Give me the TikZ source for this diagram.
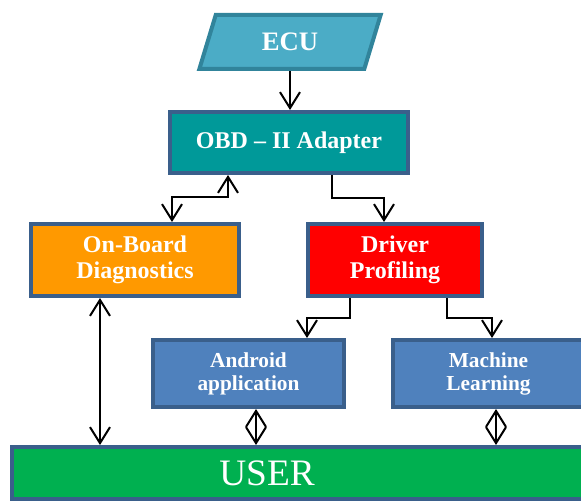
\documentclass[tikz,border=0pt]{standalone}
\usepackage{fontspec}
\setmainfont{Liberation Serif}
\usetikzlibrary{positioning,shapes.geometric,arrows.meta}
\definecolor{ecublue}{HTML}{4BACC6}
\definecolor{ecuedge}{HTML}{31849B}
\definecolor{edgeblue}{HTML}{3A5F8B}
\definecolor{obdteal}{HTML}{009999}
\definecolor{diagorange}{HTML}{FF9900}
\definecolor{profred}{HTML}{FF0000}
\definecolor{appblue}{HTML}{4F81BD}
\definecolor{usergreen}{HTML}{00B050}

\begin{document}
\begin{tikzpicture}[x=0.75pt,y=-0.75pt,
    every node/.style={
    draw=edgeblue, line width=3pt, text=white, align=center},
    bigbox/.style={font=\fontsize{18}{19.5}\selectfont\bfseries},
    smallbox/.style={fill=appblue, minimum width=143.25pt, minimum height=50.25pt,
    font=\fontsize{16}{17.25}\selectfont\bfseries},
    link/.style={draw=black, line width=1.5pt,
    -{Straight Barb[length=12pt,width=15pt]}},
    dual/.style={link,
    {Straight Barb[length=12pt,width=15pt]}-{Straight Barb[length=12pt,width=15pt]}}
    ]
    \useasboundingbox (0,0) rectangle (581,503);

    \node[trapezium, trapezium left angle=75, trapezium right angle=105,
    trapezium stretches=true, minimum width=136.5pt, minimum height=40.5pt,
    fill=ecublue, draw=ecuedge, font=\fontsize{20}{22}\selectfont\bfseries
    ](ecu) at (290,42) {ECU};
    \node[bigbox, fill=obdteal, minimum width=178.5pt, minimum height=45.75pt
    ](obd) at (289,142.5) {OBD -- II Adapter};
    \node[bigbox, fill=diagorange, minimum width=156pt, minimum height=54pt
    ](obdiag) at (135,260) {On-Board\\Diagnostics};
    \node[bigbox, fill=profred, minimum width=130.5pt, minimum height=54pt
    ](prof) at (395,260) {Driver\\Profiling};
    \node[smallbox](app) at (248.5,373.5) {Android\\application};
    \node[smallbox](ml) at (488.5,373.5) {Machine\\Learning};
    \node[fill=usergreen, minimum width=432pt, minimum height=39pt
    ](user) at (300,473) {};
    \node[draw=none, font=\fontsize{28}{30}\selectfont](usertxt) at (267,473) {USER};

    \coordinate (a1) at (228,197);
    \coordinate (a2) at (172,197);
    \coordinate (b1) at (332,198);
    \coordinate (b2) at (384,198);
    \coordinate (c1) at (350,318);
    \coordinate (c2) at (307,318);
    \coordinate (d1) at (447,318);
    \coordinate (d2) at (492,318);
    \coordinate (e1) at (100,400);
    \coordinate (e2) at (256,400);
    \coordinate (e3) at (496,400);

    \draw[link] (ecu.south) -- (ecu.south |- obd.north);
    \draw[dual] (a1 |- obd.south) -- (a1) -- (a2) -- (a2 |- obdiag.north);
    \draw[link] (b1 |- obd.south) -- (b1) -- (b2) -- (b2 |- prof.north);
    \draw[link] (c1 |- prof.south) -- (c1) -- (c2) -- (c2 |- app.north);
    \draw[link] (d1 |- prof.south) -- (d1) -- (d2) -- (d2 |- ml.north);
    \draw[dual] (e1 |- obdiag.south) -- (e1 |- user.north);
    \draw[dual] (e2 |- app.south) -- (e2 |- user.north);
    \draw[dual] (e3 |- ml.south) -- (e3 |- user.north);
\end{tikzpicture}
\end{document}
